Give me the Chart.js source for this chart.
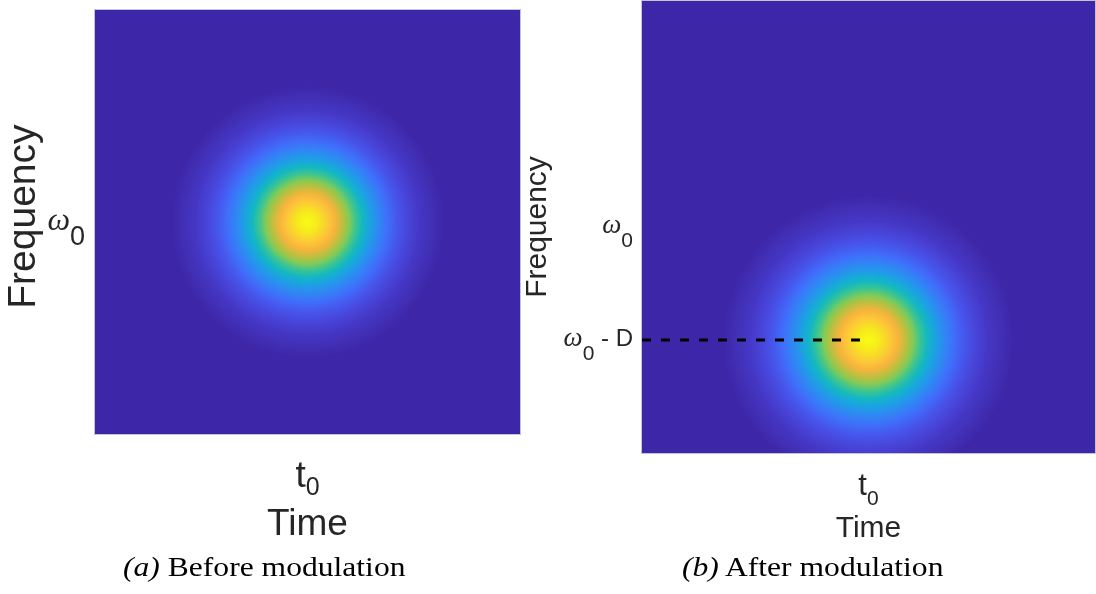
<!DOCTYPE html>
<html>
<head>
<meta charset="utf-8">
<script src="https://cdn.jsdelivr.net/npm/chart.js@4/dist/chart.umd.min.js"></script>
<style>
  body { margin: 0; background: #fff; width: 1096px; height: 594px; position: relative; overflow: hidden; }
  .panel { position: absolute; top: 0; }
  #wrap-a { left: 0; }
  #wrap-b { left: 515px; }
  .caption { position: absolute; top: 554px; font: 27px 'Liberation Serif', serif; line-height: 27px; color: #000;
             white-space: nowrap; transform: scaleX(1.17); transform-origin: 0 0; }
</style>
</head>
<body>
<div class="panel" id="wrap-a"><canvas id="chart-a" width="530" height="560"></canvas></div>
<div class="panel" id="wrap-b"><canvas id="chart-b" width="581" height="560"></canvas></div>
<div class="caption" style="left:123px"><i>(a)</i> Before modulation</div>
<div class="caption" style="left:682px"><i>(b)</i> After modulation</div>
<script>
// normalised time / frequency axes
const axisMin = 0, axisMax = 1;

// tick positions and labels ("_" marks a subscript)
const timeTicks = [0.5];
const timeTickLabels = ['t_0'];
const freqTicksA = [0.5];
const freqTickLabelsA = ['ω_0'];
const freqTicksB = [0.5, 0.25];
const freqTickLabelsB = ['ω_0', 'ω_0 - D'];

// pulse centre (time, frequency) in each panel
const pulseTimeA = [0.5];
const pulseFreqA = [0.5];
const pulseTimeB = [0.5];
const pulseFreqB = [0.25];
// visible radius of the pulse, in axis units
const pulseRadius = 0.32;

// colour profile from the centre (0) to the visible edge (1)
const shadeStops  = [0, 0.074, 0.162, 0.206, 0.265, 0.309, 0.353, 0.404, 0.456, 0.515, 0.588, 0.662, 0.735, 0.824, 0.912, 1];
const shadeColors = ['#f9fb15', '#f6ea1c', '#fcc43a', '#f7b43c', '#b8c040', '#80cb58', '#3fc58e', '#14b8c0',
                     '#1aa4e0', '#2d8bf2', '#3f6ffa', '#4656ec', '#4846da', '#4537c6', '#4130b6', '#3e26a8'];

// dashed marker from the frequency axis to the shifted pulse
const shiftLineTime = [0, 0.5];
const shiftLineFreq = [0.25, 0.25];

const textColor = '#262626';
const bgColor = shadeColors[shadeColors.length - 1];

function pxLen(chart, v) {
  const xs = chart.scales.x;
  if (!xs) return 0;
  const d = xs.getPixelForValue(v) - xs.getPixelForValue(0);
  return Number.isFinite(d) ? d : 0;
}

function pulseFill(c) {
  if (c.type !== 'data' || !c.parsed) return bgColor;
  const { ctx, scales } = c.chart;
  if (!scales.x || !scales.y) return bgColor;
  const px = scales.x.getPixelForValue(c.parsed.x);
  const py = scales.y.getPixelForValue(c.parsed.y);
  const r = pxLen(c.chart, pulseRadius);
  if (![px, py].every(Number.isFinite) || r <= 0) return bgColor;
  const g = ctx.createRadialGradient(px, py, 0, px, py, r);
  shadeStops.forEach((s, i) => g.addColorStop(s, shadeColors[i]));
  return g;
}

function splitLabel(s) {
  const i = s.indexOf('_');
  if (i < 0) return [s, '', ''];
  return [s.slice(0, i), s.charAt(i + 1), s.slice(i + 2)];
}

function headFont(txt, size) {
  return /[\u0370-\u03ff]/.test(txt) ? `italic ${size}px 'Liberation Serif'` : `${size}px 'Liberation Sans'`;
}

// plot background, frame and subscripted tick labels
const framePlugin = {
  id: 'frame',
  beforeDatasetsDraw(chart) {
    const { ctx, chartArea: a } = chart;
    ctx.save();
    ctx.fillStyle = bgColor;
    ctx.fillRect(a.left, a.top, a.right - a.left, a.bottom - a.top);
    ctx.restore();
  },
  afterDraw(chart, args, o) {
    const { ctx, chartArea: a, scales } = chart;
    ctx.save();
    ctx.strokeStyle = '#c4c4d0';
    ctx.lineWidth = 1;
    ctx.strokeRect(a.left - 0.5, a.top - 0.5, a.right - a.left + 1, a.bottom - a.top + 1);
    ctx.fillStyle = textColor;
    ctx.textBaseline = 'alphabetic';
    ctx.textAlign = 'left';

    o.x.values.forEach((v, i) => {
      const [head, sub] = splitLabel(o.x.labels[i]);
      const px = scales.x.getPixelForValue(v);
      ctx.font = headFont(head, o.x.size);
      const wh = ctx.measureText(head).width;
      ctx.font = `${o.x.subSize}px 'Liberation Sans'`;
      const ws = ctx.measureText(sub).width;
      const x0 = px - (wh + ws) / 2;
      ctx.font = headFont(head, o.x.size);
      ctx.fillText(head, x0, a.bottom + o.x.dy);
      ctx.font = `${o.x.subSize}px 'Liberation Sans'`;
      ctx.fillText(sub, x0 + wh, a.bottom + o.x.subDy);
    });

    o.y.values.forEach((v, i) => {
      const [head, sub, tail] = splitLabel(o.y.labels[i]);
      const py = scales.y.getPixelForValue(v);
      ctx.font = headFont(head, o.y.size);
      const wh = ctx.measureText(head).width;
      ctx.font = `${o.y.subSize}px 'Liberation Sans'`;
      const ws = ctx.measureText(sub).width;
      ctx.font = `${o.y.tailSize}px 'Liberation Sans'`;
      const wt = ctx.measureText(tail).width;
      const x0 = a.left - o.y.gap - (wh + ws + wt);
      ctx.font = headFont(head, o.y.size);
      ctx.fillText(head, x0, py + o.y.dy);
      ctx.font = `${o.y.subSize}px 'Liberation Sans'`;
      ctx.fillText(sub, x0 + wh, py + o.y.subDy);
      ctx.font = `${o.y.tailSize}px 'Liberation Sans'`;
      ctx.fillText(tail, x0 + wh + ws, py + o.y.dy);
    });
    ctx.restore();
  },
};

function makeChart(id, cfg) {
  const datasets = [{
    type: 'bubble',
    data: cfg.pulseT.map((t, i) => ({ x: t, y: cfg.pulseW[i] })),
    backgroundColor: pulseFill,
    borderWidth: 0,
    clip: 0,
    order: 2,
  }];
  if (cfg.line) {
    datasets.push({
      type: 'line',
      data: shiftLineTime.map((t, i) => ({ x: t, y: shiftLineFreq[i] })),
      borderColor: '#000',
      borderWidth: 3,
      borderDash: [9, 10],
      pointRadius: 0,
      clip: false,
      order: 1,
    });
  }
  const chart = new Chart(document.getElementById(id), {
    type: 'bubble',
    data: { datasets },
    plugins: [framePlugin],
    options: {
      responsive: false,
      animation: false,
      events: [],
      layout: { padding: cfg.padding, autoPadding: false },
      plugins: {
        legend: { display: false },
        tooltip: { enabled: false },
        frame: cfg.ticks,
      },
      scales: {
        x: {
          type: 'linear', min: axisMin, max: axisMax,
          grid: { display: false }, border: { display: false },
          ticks: { display: false },
          title: { display: true, text: 'Time', color: textColor,
                   font: { family: 'Liberation Sans', size: cfg.titleSize }, padding: { top: 0, bottom: cfg.xTitlePad } },
          afterFit: s => { s.height = cfg.xHeight; },
        },
        y: {
          type: 'linear', min: axisMin, max: axisMax,
          grid: { display: false }, border: { display: false },
          ticks: { display: false },
          title: { display: true, text: cfg.yTitle, color: textColor,
                   font: { family: 'Liberation Sans', size: cfg.yTitleSize }, padding: { top: cfg.yTitlePad, bottom: 0 } },
          afterFit: s => { s.width = cfg.yWidth; },
        },
      },
    },
  });
  // bubble size comes from the laid-out scale: pulse radius in axis units -> pixels
  chart.data.datasets[0].data.forEach(p => { p.r = pxLen(chart, pulseRadius); });
  chart.update('none');
  return chart;
}

makeChart('chart-a', {
  pulseT: pulseTimeA, pulseW: pulseFreqA, line: false,
  padding: { top: 10, right: 10, left: 0, bottom: 0 },
  yWidth: 95, xHeight: 126, titleSize: 37, xTitlePad: 13, yTitlePad: 1,
  yTitle: ' Frequency', yTitleSize: 39,
  ticks: {
    x: { values: timeTicks, labels: timeTickLabels, size: 37, subSize: 25, dy: 53, subDy: 61 },
    y: { values: freqTicksA, labels: freqTickLabelsA, size: 32, subSize: 27, tailSize: 26, gap: 10, dy: 8, subDy: 23 },
  },
});

makeChart('chart-b', {
  pulseT: pulseTimeB, pulseW: pulseFreqB, line: true,
  padding: { top: 1, right: 1, left: 0, bottom: 0 },
  yWidth: 127, xHeight: 107, titleSize: 30, xTitlePad: 13, yTitlePad: 5,
  yTitle: 'Frequency', yTitleSize: 30,
  ticks: {
    x: { values: timeTicks, labels: timeTickLabels, size: 31, subSize: 21, dy: 42, subDy: 52 },
    y: { values: freqTicksB, labels: freqTickLabelsB, size: 27, subSize: 21, tailSize: 24, gap: 9, dy: 6, subDy: 20 },
  },
});
</script>
</body>
</html>
